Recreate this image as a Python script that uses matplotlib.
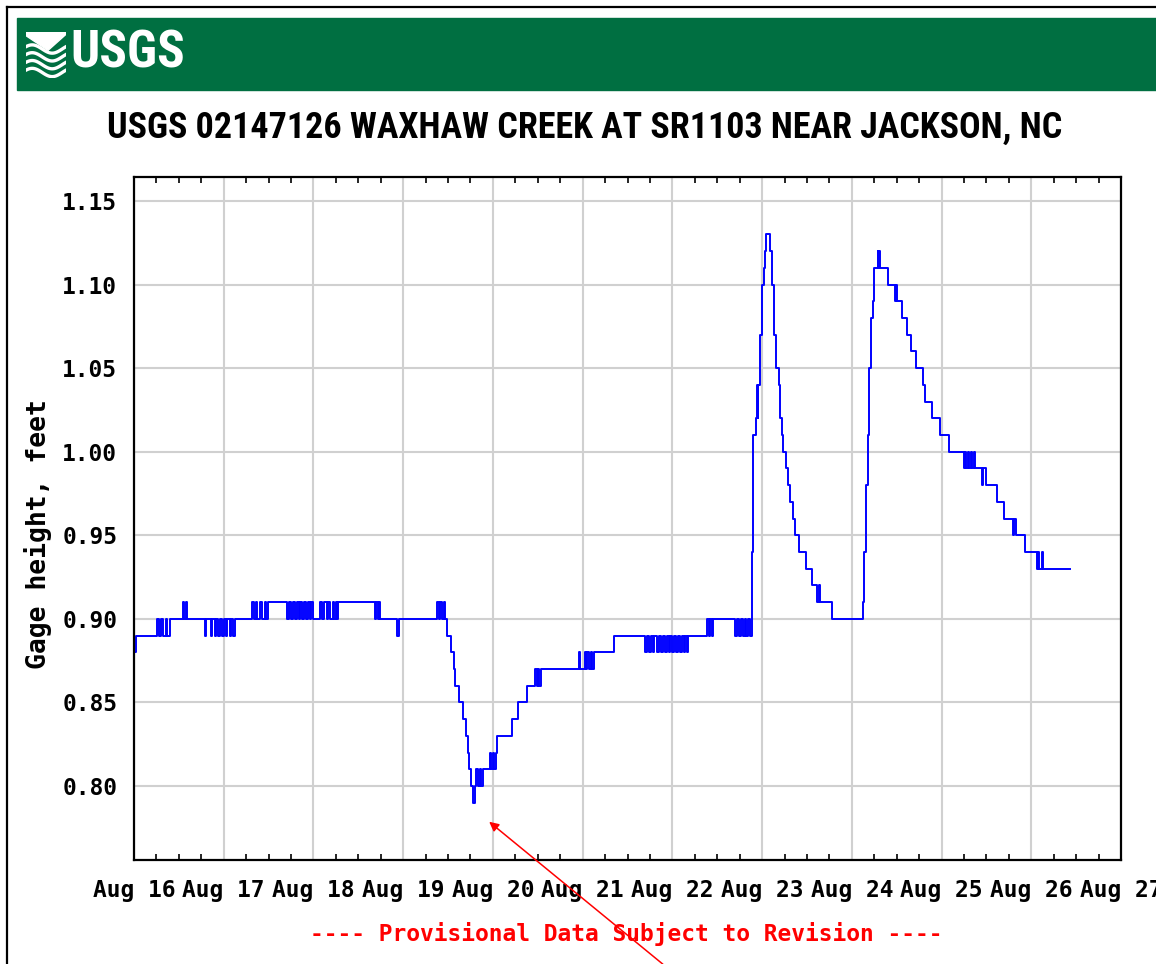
import numpy as np
import matplotlib.pyplot as plt
from matplotlib import font_manager
from matplotlib.ticker import MultipleLocator, FixedLocator

# gage height readings, hours after Aug 16 00:00 (step data, 0.01 ft resolution)
hours = [
    0.0, 0.5, 6.2, 6.7, 7.2, 7.7, 8.5, 8.9, 9.6, 13.1, 13.4, 14.0, 14.3,
    19.0, 19.3, 20.5, 20.8, 21.7, 22.0, 22.6, 23.0, 23.5, 24.0, 24.5, 25.0,
    25.6, 26.0, 26.6, 27.0,
    31.6, 32.0, 32.6, 33.0, 33.8, 34.2, 35.0, 35.4, 35.9,
    41.0, 41.5, 42.0, 42.5, 43.0, 43.5, 44.0, 44.5, 45.0, 45.5, 46.0, 46.5,
    47.0, 47.4, 47.9,
    49.8, 50.3, 50.8, 51.5, 52.0, 52.5, 53.2, 53.6, 54.0, 54.3, 54.6,
    64.5, 64.8, 65.2, 65.5, 65.8, 70.4, 71.0,
    81.1, 81.5, 81.9, 82.4, 82.8, 83.2,
    83.7, 84.8, 85.5, 85.9, 87.0, 87.9, 88.8, 89.3, 89.7, 90.2, 90.8,
    91.2, 91.6, 92.0, 92.5, 92.9, 93.4,
    95.3, 95.6, 96.0, 96.4, 96.7, 97.0, 101.1, 102.8, 105.1,
    107.3, 107.7, 108.0, 108.4, 108.8,
    119.0, 119.3, 120.5, 120.9, 121.3, 121.7, 122.2, 122.6, 123.0, 128.3,
    136.8, 137.2, 137.8, 138.2, 138.8, 139.2, 140.0, 140.5, 141.0, 141.5,
    142.0, 142.5, 143.0, 143.5, 144.0, 144.5, 145.0, 145.5, 146.0, 146.5,
    147.0, 147.5, 148.0, 148.3,
    153.3, 153.7, 154.1, 154.6, 155.0,
    160.8, 161.3, 161.8, 162.3, 162.8, 163.3, 163.8, 164.3, 164.8,
    165.3, 165.7, 166.4, 166.6, 166.8, 167.0, 167.3, 167.5, 167.9, 168.4,
    168.7, 169.1, 170.2, 170.6, 171.1, 171.7, 172.4, 172.8, 173.3, 173.7,
    174.4, 175.0, 175.5, 176.2, 176.8, 178.0, 179.8, 181.3,
    182.8, 183.1, 183.5, 186.7,
    195.0, 195.3, 195.8, 196.2, 196.5, 197.0, 197.7, 198.0,
    198.9, 199.1, 199.4, 199.6,
    201.8, 203.6, 203.9, 204.2, 205.4, 206.7, 207.9, 209.2, 211.0, 211.6,
    213.4, 215.6, 217.9,
    221.9, 222.2, 222.6, 223.0, 223.4, 223.8, 224.2, 224.6, 225.0,
    226.9, 227.2, 228.0, 230.8, 232.6,
    235.2, 235.5, 235.8, 238.4,
    241.5, 241.8, 242.1, 243.0, 243.2, 250.4,
]
gage_ft = [
    0.88, 0.89, 0.90, 0.89, 0.90, 0.89, 0.90, 0.89, 0.90, 0.91, 0.90, 0.91, 0.90,
    0.89, 0.90, 0.89, 0.90, 0.89, 0.90, 0.89, 0.90, 0.89, 0.90, 0.89, 0.90,
    0.89, 0.90, 0.89, 0.90,
    0.91, 0.90, 0.91, 0.90, 0.91, 0.90, 0.91, 0.90, 0.91,
    0.90, 0.91, 0.90, 0.91, 0.90, 0.91, 0.90, 0.91, 0.90, 0.91, 0.90, 0.91,
    0.90, 0.91, 0.90,
    0.91, 0.90, 0.91, 0.90, 0.91, 0.90, 0.91, 0.90, 0.91, 0.90, 0.91,
    0.90, 0.91, 0.90, 0.91, 0.90, 0.89, 0.90,
    0.91, 0.90, 0.91, 0.90, 0.91, 0.90,
    0.89, 0.88, 0.87, 0.86, 0.85, 0.84, 0.83, 0.82, 0.81, 0.80, 0.79,
    0.80, 0.81, 0.80, 0.81, 0.80, 0.81,
    0.82, 0.81, 0.82, 0.81, 0.82, 0.83, 0.84, 0.85, 0.86,
    0.87, 0.86, 0.87, 0.86, 0.87,
    0.88, 0.87, 0.88, 0.87, 0.88, 0.87, 0.88, 0.87, 0.88, 0.89,
    0.88, 0.89, 0.88, 0.89, 0.88, 0.89, 0.88, 0.89, 0.88, 0.89,
    0.88, 0.89, 0.88, 0.89, 0.88, 0.89, 0.88, 0.89, 0.88, 0.89,
    0.88, 0.89, 0.88, 0.89,
    0.90, 0.89, 0.90, 0.89, 0.90,
    0.89, 0.90, 0.89, 0.90, 0.89, 0.90, 0.89, 0.90, 0.89,
    0.94, 1.01, 1.02, 1.04, 1.02, 1.04, 1.04, 1.07, 1.10, 1.11,
    1.12, 1.13, 1.12, 1.10, 1.07, 1.05, 1.04, 1.02, 1.01, 1.00,
    0.99, 0.98, 0.97, 0.96, 0.95, 0.94, 0.93, 0.92,
    0.91, 0.92, 0.91, 0.90,
    0.91, 0.94, 0.98, 1.01, 1.05, 1.08, 1.09, 1.11,
    1.12, 1.11, 1.12, 1.11,
    1.10, 1.09, 1.10, 1.09, 1.08, 1.07, 1.06, 1.05, 1.04, 1.03,
    1.02, 1.01, 1.00,
    0.99, 1.00, 0.99, 1.00, 0.99, 1.00, 0.99, 1.00, 0.99,
    0.98, 0.99, 0.98, 0.97, 0.96,
    0.95, 0.96, 0.95, 0.94,
    0.93, 0.94, 0.93, 0.94, 0.93, 0.93,
]

day_labels = ['Aug 16', 'Aug 17', 'Aug 18', 'Aug 19', 'Aug 20', 'Aug 21',
              'Aug 22', 'Aug 23', 'Aug 24', 'Aug 25', 'Aug 26', 'Aug 27']
y_ticks = [0.80, 0.85, 0.90, 0.95, 1.00, 1.05, 1.10, 1.15]

names = {f.name for f in font_manager.fontManager.ttflist}
narrow = next((n for n in ['Liberation Sans Narrow', 'DejaVu Sans Condensed', 'Roboto Condensed',
                           'Open Sans Condensed', 'Liberation Sans'] if n in names), 'DejaVu Sans')
mono = 'DejaVu Sans Mono'

W, H = 1156, 964
fig = plt.figure(figsize=(W / 100, H / 100), dpi=100)
renderer = fig.canvas.get_renderer()


def fit_width(t, target_px):
    # shrink/grow a text so its rendered width matches target
    w = t.get_window_extent(renderer).width
    t.set_fontsize(t.get_fontsize() * target_px / w)


# outer frame and green banner
fig.add_artist(plt.Line2D([7 / W, 7 / W], [0, 1 - 7 / H], color='black', lw=1.6))
fig.add_artist(plt.Line2D([7 / W, 1], [1 - 7 / H, 1 - 7 / H], color='black', lw=1.6))
fig.add_artist(plt.Rectangle((17 / W, 1 - 90 / H), 1, 72 / H, color='#006F41', zorder=0.5))

# usgs logo
logo = fig.add_axes([26 / W, 1 - 78 / H, 40 / W, 46 / H])
logo.set_zorder(2)
logo.set_axis_off()
logo.set_xlim(0, 1)
logo.set_ylim(0, 1)
s = np.linspace(0, 1, 50)
for k in range(4):
    off = 0.12 + k * 0.17
    logo.plot(s, off + 0.09 * np.sin(s * 2 * np.pi + 0.6), color='white', lw=2.4)
logo.fill([0, 1, 1, 0.55, 0], [1, 1, 0.95, 0.6, 0.92], color='white')
logo_txt = fig.text(70 / W, 1 - 53 / H, 'USGS', color='white', fontsize=36, fontweight='heavy',
                    family=narrow, ha='left', va='center', zorder=3)
fit_width(logo_txt, 115)

title = fig.text(585 / W, 1 - 128 / H, 'USGS 02147126 WAXHAW CREEK AT SR1103 NEAR JACKSON, NC',
                 family=narrow, fontsize=27, fontweight='bold', ha='center', va='center')
fit_width(title, 956)

ax = fig.add_axes([134 / W, 1 - 860 / H, 987 / W, 683 / H])
ax.plot(hours, gage_ft, color='#0000FF', lw=1.4, drawstyle='steps-post')

ax.set_xlim(0, 264)
ax.set_ylim(0.7557, 1.1644)
ax.xaxis.set_major_locator(FixedLocator(np.arange(0, 265, 24)))
ax.xaxis.set_minor_locator(MultipleLocator(6))
ax.set_xticklabels(day_labels)
ax.set_yticks(y_ticks)
ax.set_yticklabels([f'{v:.2f}' for v in y_ticks])
ax.grid(True, color='#d0d0d0', lw=1.5)
ax.set_axisbelow(True)
for sp in ax.spines.values():
    sp.set_linewidth(1.6)
ax.tick_params(axis='x', which='major', length=0, pad=14)
ax.tick_params(axis='x', which='minor', direction='in', length=4, width=1.2, top=True, bottom=True)
ax.tick_params(axis='y', length=0, pad=12)
for lab in ax.get_xticklabels() + ax.get_yticklabels():
    lab.set_family(mono)
    lab.set_fontweight('bold')
    lab.set_fontsize(16.5)
for lab in ax.get_xticklabels():
    lab.set_clip_on(False)

fig.text(38 / W, 1 - 534 / H, 'Gage height, feet', rotation=90, family=mono,
         fontweight='bold', fontsize=19, ha='center', va='center')
fig.text(626 / W, 1 - 934 / H, '---- Provisional Data Subject to Revision ----',
         family=mono, fontweight='bold', fontsize=16.5, color='red', ha='center', va='center')

# red annotation arrow
fig.add_artist(plt.Annotation('', xy=(487 / W, 1 - 820 / H), xytext=(665 / W, -0.002),
                              xycoords='figure fraction', textcoords='figure fraction',
                              arrowprops=dict(arrowstyle='-|>', color='red', lw=1.1,
                                              mutation_scale=14)))

fig.savefig('out.png', dpi=100)
